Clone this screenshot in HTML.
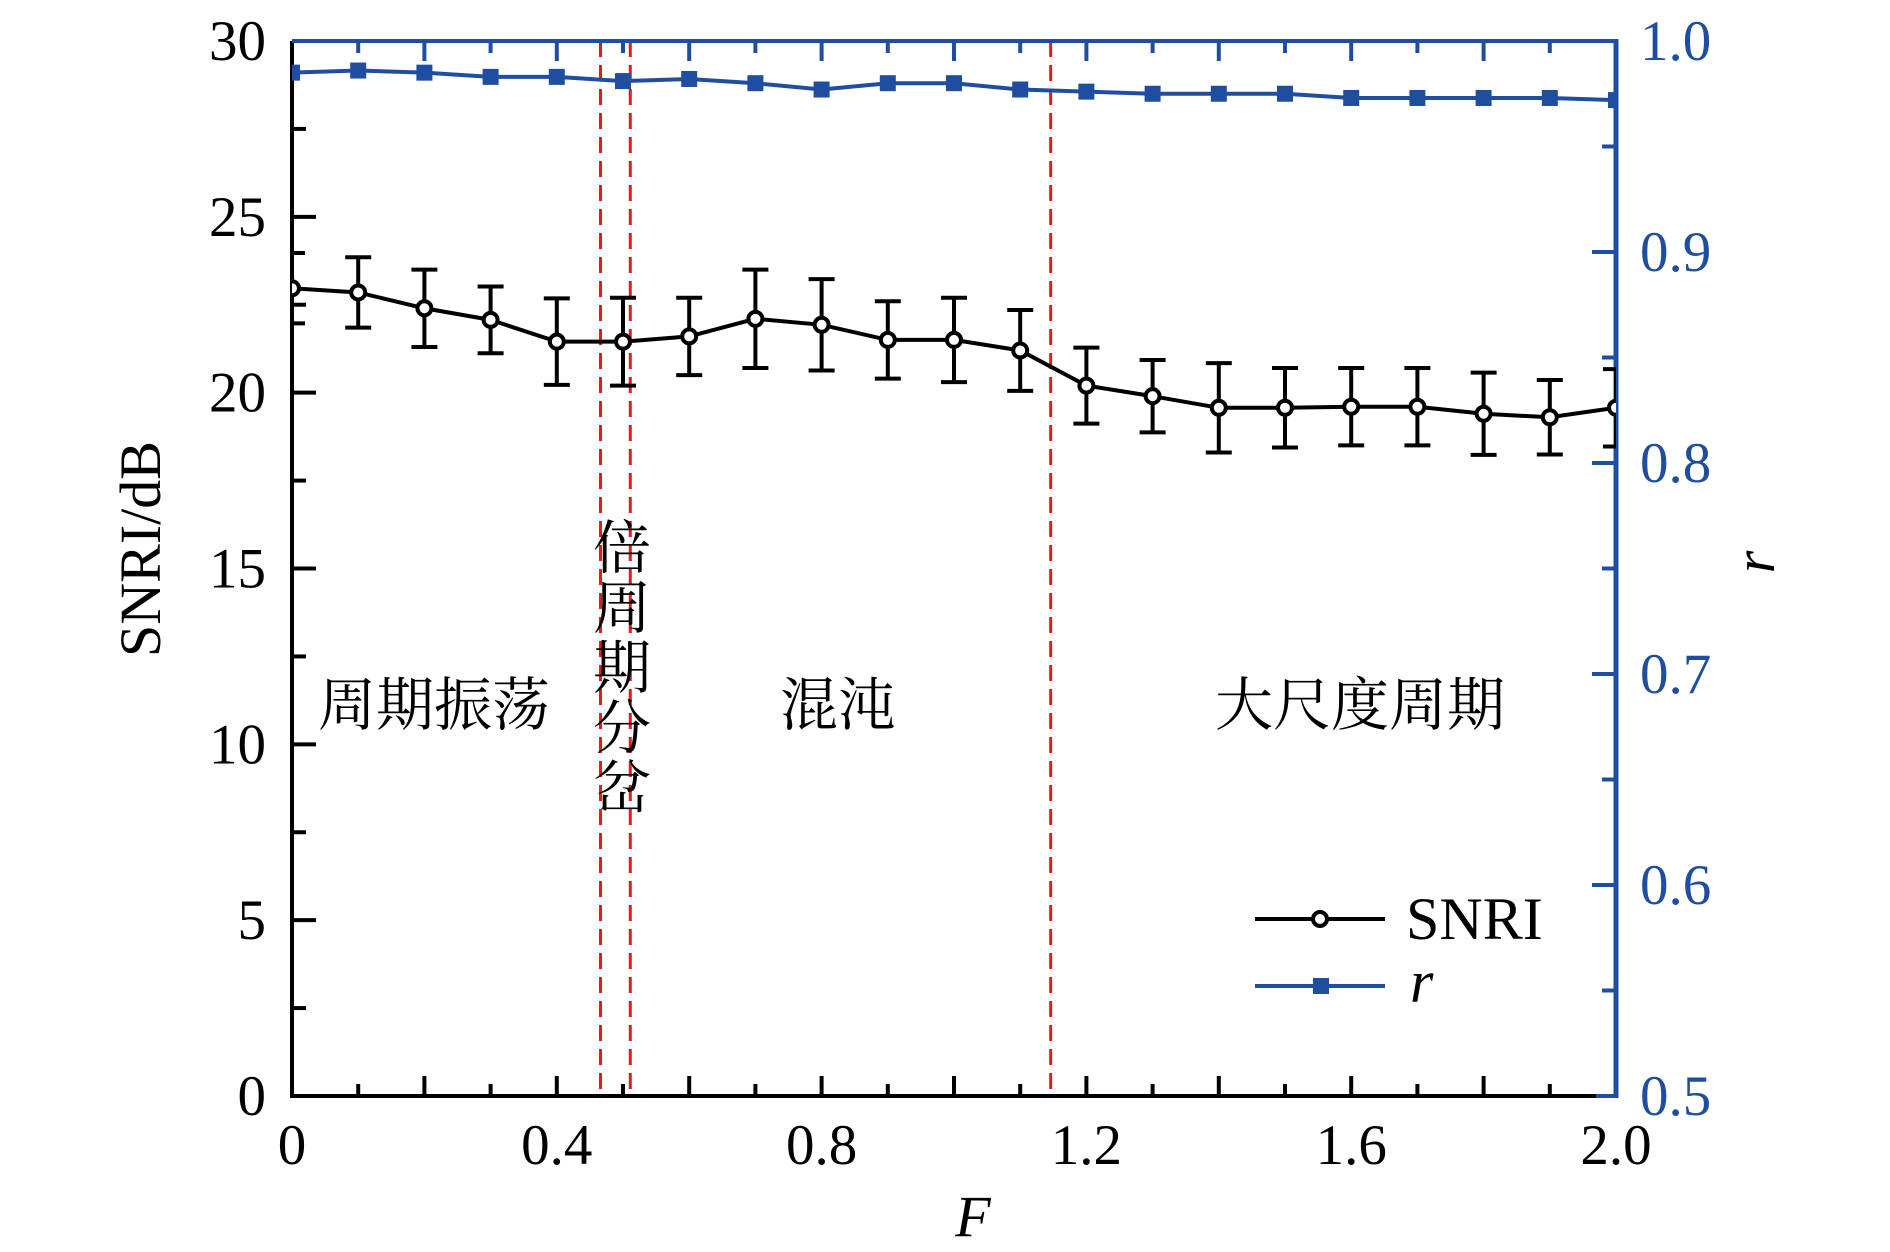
<!DOCTYPE html>
<html><head><meta charset="utf-8">
<style>
html,body{margin:0;padding:0;background:#fff;}
svg{display:block;}
text{font-family:"Liberation Serif","Noto Serif CJK SC",serif;}
.cjk{font-family:"Liberation Serif","Noto Serif CJK SC","Noto Sans CJK SC",serif;}
</style></head>
<body>
<svg id="chart" width="1890" height="1252" viewBox="0 0 1890 1252" xmlns="http://www.w3.org/2000/svg"></svg>
<script>
const categories = [0,0.1,0.2,0.3,0.4,0.5,0.6,0.7,0.8,0.9,1.0,1.1,1.2,1.3,1.4,1.5,1.6,1.7,1.8,1.9,2.0];
const snriValues = [22.97,22.85,22.4,22.07,21.45,21.45,21.6,22.1,21.93,21.5,21.5,21.2,20.2,19.9,19.57,19.57,19.6,19.6,19.4,19.3,19.57];
const snriErrors = [1.0,1.0,1.1,0.95,1.23,1.25,1.1,1.4,1.3,1.1,1.2,1.15,1.08,1.03,1.27,1.13,1.1,1.1,1.17,1.06,1.1];
const rValues = [0.985,0.986,0.985,0.983,0.983,0.981,0.982,0.980,0.977,0.980,0.980,0.977,0.976,0.975,0.975,0.975,0.973,0.973,0.973,0.973,0.972];
const boundaries = [0.466,0.511,1.146];
const xTickLabels = ["0","0.4","0.8","1.2","1.6","2.0"];
const xTickValues = [0,0.4,0.8,1.2,1.6,2.0];
const yTickValues = [0,5,10,15,20,25,30];
const rTickLabels = ["0.5","0.6","0.7","0.8","0.9","1.0"];
const rTickValues = [0.5,0.6,0.7,0.8,0.9,1.0];

const L=292,R=1616,T=41,B=1096;
const BLUE="#1f4ea0";
const xs=v=>L+(v-0)/(2-0)*(R-L);
const ys=v=>B-(v/30)*(B-T);
const yr=v=>B-((v-0.5)/0.5)*(B-T);
const svg=document.getElementById('chart');
const NS="http://www.w3.org/2000/svg";
function mk(tag,attrs,parent){const e=document.createElementNS(NS,tag);for(const k in attrs)e.setAttribute(k,attrs[k]);(parent||svg).appendChild(e);return e;}
function txt(s,attrs,parent){const e=mk('text',attrs,parent);e.textContent=s;return e;}

const defs=mk('defs',{});
const cp=mk('clipPath',{id:'plotclip'},defs);
mk('rect',{x:L,y:T-20,width:R-L,height:B-T+40},cp);

const bg=mk('g',{});


boundaries.forEach(b=>{
  const l=mk('line',{x1:xs(b),x2:xs(b),y1:T,y2:B,stroke:'#e8191c','stroke-width':3,'stroke-dasharray':'16,8'},bg);
  
  
});

const tg=mk('g',{});


for(let i=0;i<=20;i++){
  const v=i*0.1, x=xs(v), len=(i%2==0)?20:12;
  mk('line',{x1:x,x2:x,y1:B,y2:B-len,stroke:'#000','stroke-width':4},tg);
  mk('line',{x1:x,x2:x,y1:T,y2:T+len,stroke:BLUE,'stroke-width':4},tg);
}
for(let i=0;i<=12;i++){
  const v=i*2.5, y=ys(v), len=(i%2==0)?24:14;
  mk('line',{x1:L,x2:L+len,y1:y,y2:y,stroke:'#000','stroke-width':4},tg);
}
for(let i=0;i<=10;i++){
  const v=0.5+i*0.05, y=yr(v), len=(i%2==0)?24:14;
  mk('line',{x1:R,x2:R-len,y1:y,y2:y,stroke:BLUE,'stroke-width':4},tg);
}

const ax=mk('g',{});


mk('line',{x1:L,x2:L,y1:T,y2:B+2,stroke:'#000','stroke-width':4},ax);
mk('line',{x1:L-2,x2:R-20,y1:B,y2:B,stroke:'#000','stroke-width':4},ax);
mk('line',{x1:R-20,x2:R+2,y1:B,y2:B,stroke:BLUE,'stroke-width':4},ax);
mk('line',{x1:R,x2:R,y1:T-2,y2:B+2,stroke:BLUE,'stroke-width':5},ax);
mk('line',{x1:L,x2:R,y1:T,y2:T,stroke:BLUE,'stroke-width':4},ax);

xTickValues.forEach((v,i)=>{
  const t=txt(xTickLabels[i],{x:xs(v),y:1164,'font-size':57,'text-anchor':'middle',fill:'#000'});
  
  
});
yTickValues.forEach(v=>{
  const t=txt(String(v),{x:266,y:ys(v)+19,'font-size':57,'text-anchor':'end',fill:'#000'});
  
  
});
rTickValues.forEach((v,i)=>{
  const t=txt(rTickLabels[i],{x:1640,y:yr(v)+19,'font-size':57,'text-anchor':'start',fill:BLUE});
  
  
});

const rg=mk('g',{'clip-path':'url(#plotclip)'});


mk('polyline',{points:categories.map((c,i)=>xs(c)+','+yr(rValues[i])).join(' '),fill:'none',stroke:BLUE,'stroke-width':4},rg);
categories.forEach((c,i)=>{
  const m=mk('rect',{x:xs(c)-8,y:yr(rValues[i])-8,width:16,height:16,fill:BLUE},rg);
  
  
});

const sg=mk('g',{'clip-path':'url(#plotclip)'});


categories.forEach((c,i)=>{
  const x=xs(c), y1=ys(snriValues[i]+snriErrors[i]), y2=ys(snriValues[i]-snriErrors[i]);
  const eb=mk('g',{},sg);
  
  
  mk('line',{x1:x,x2:x,y1:y1,y2:y2,stroke:'#000','stroke-width':4},eb);
  mk('line',{x1:x-13,x2:x+13,y1:y1,y2:y1,stroke:'#000','stroke-width':4},eb);
  mk('line',{x1:x-13,x2:x+13,y1:y2,y2:y2,stroke:'#000','stroke-width':4},eb);
});
mk('polyline',{points:categories.map((c,i)=>xs(c)+','+ys(snriValues[i])).join(' '),fill:'none',stroke:'#000','stroke-width':4},sg);
categories.forEach((c,i)=>{
  const m=mk('circle',{cx:xs(c),cy:ys(snriValues[i]),r:7,fill:'#fff',stroke:'#000','stroke-width':4},sg);
  
  
});

const lab=[["周期振荡",434,725],["混沌",838,725],["大尺度周期",1360,725]];
lab.forEach(l=>{
  const t=txt(l[0],{x:l[1],y:l[2],'font-size':58,'text-anchor':'middle',fill:'#000',class:'cjk'});
  
  
});
const vg=mk('g',{});


["倍","周","期","分","岔"].forEach((ch,i)=>{
  txt(ch,{x:622,y:568+i*60,'font-size':58,'text-anchor':'middle',fill:'#000',class:'cjk'},vg);
});

let t=txt("SNRI/dB",{x:0,y:0,'font-size':58,'text-anchor':'middle',fill:'#000',transform:'translate(160,549) rotate(-90)'});


t=txt("r",{x:0,y:0,'font-size':58,'font-style':'italic','text-anchor':'middle',fill:'#000',transform:'translate(1774,562) rotate(-90)'});


t=txt("F",{x:973,y:1236,'font-size':58,'font-style':'italic','text-anchor':'middle',fill:'#000'});



const lg=mk('g',{});


const le1=mk('g',{},lg);


mk('line',{x1:1255,x2:1385,y1:919,y2:919,stroke:'#000','stroke-width':4},le1);
mk('circle',{cx:1320,cy:919,r:7,fill:'#fff',stroke:'#000','stroke-width':4},le1);
txt("SNRI",{x:1406,y:939,'font-size':60,fill:'#000'},le1);
const le2=mk('g',{},lg);


mk('line',{x1:1255,x2:1385,y1:986,y2:986,stroke:BLUE,'stroke-width':4},le2);
mk('rect',{x:1313,y:978,width:16,height:16,fill:BLUE},le2);
txt("r",{x:1410,y:1002,'font-size':60,'font-style':'italic',fill:'#000'},le2);
</script>
</body></html>
